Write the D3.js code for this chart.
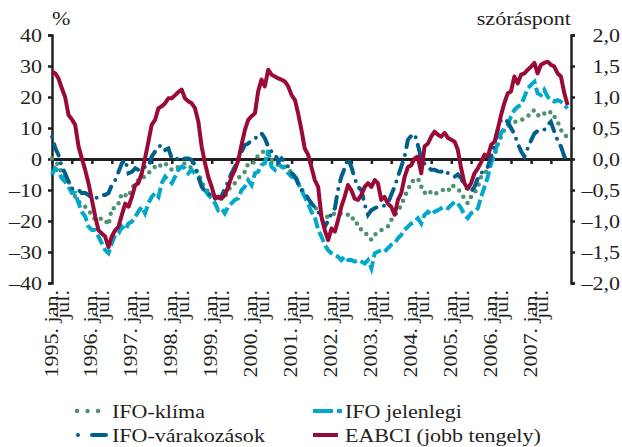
<!DOCTYPE html>
<html>
<head>
<meta charset="utf-8">
<script src="https://cdn.jsdelivr.net/npm/d3@7"></script>
<style>
body { margin: 0; background: #fff; }
svg { display: block; }
text { font-family: "Liberation Serif", "Times New Roman", serif; fill: #231f20; }
</style>
</head>
<body>
<svg width="622" height="447"></svg>
<script>

// monthly values, 1995 jan .. 2007 dec
var klima = [0.2, -0.9, -1.9, -4.6, -5.7, -7.3, -9.5, -12.2, -13.8, -14.3,
  -15.4, -16.5, -18, -19.7, -19.7, -19.1, -19.7, -21.3, -15.9, -15.9,
  -14.3, -11, -11.6, -12.2, -9.5, -7.8, -6.8, -6.8, -5.2, -4.6,
  -3.5, -2.5, -3, -1.4, -1.4, -2.5, -3.5, -3.5, -2.5, -1.9,
  -1.4, -1.9, -3, -3.5, -4.6, -7.3, -9.5, -10.5, -11, -12.2,
  -12.7, -12.7, -12.2, -10, -8.9, -7.8, -6.2, -5.2, -4.1, -1.4,
  -1.4, -0.9, 1.3, 1.8, 2.9, 1.3, -0.3, -1.4, -1.9, -1.9,
  -2.5, -3, -4.6, -6.2, -7.8, -9.5, -11.6, -13.2, -14.3, -15.4,
  -17, -18, -18.6, -18.6, -18, -17.5, -18, -17.5, -18, -18,
  -18, -20.8, -20.8, -22.9, -23.4, -25, -26.1, -24.5, -23.4, -22.9,
  -22.4, -21.8, -19.7, -18, -17, -14.8, -12.2, -10, -7.3, -6.8,
  -6.2, -8.9, -11, -10, -11, -11.6, -10.5, -10, -10, -10.5,
  -8.4, -8.9, -9.5, -11, -12.7, -14.3, -12.2, -11, -8.9, -5.7,
  -4.6, -3.5, -1.4, 1.3, 4.5, 7.2, 9.4, 10.4, 11, 12,
  12, 12.6, 13.1, 13.7, 15.3, 15.8, 14.2, 13.7, 14.7, 14.2,
  15.3, 13.7, 12, 9.4, 7.7, 7.2]

var jelenlegi = [-5, -3, -4, -6.2, -7.3, -8.9, -11, -11, -14.3, -17,
  -18.6, -21.8, -22.9, -22.9, -25, -27.2, -29.4, -30.4, -27.2, -24.5,
  -24, -21.8, -22.9, -20.8, -20.2, -18.6, -17, -15.4, -17.5, -14.3,
  -12.2, -11, -12.2, -7.8, -5.7, -6.8, -7.8, -5.7, -3.5, -2.5,
  -3, -4.6, -3.5, -4.6, -5.7, -8.4, -10, -11.6, -12.7, -14.3,
  -16.5, -15.9, -17.5, -15.4, -14.3, -13.2, -12.7, -10, -8.9, -6.8,
  -8.4, -4.6, -4.1, -1.9, -1.4, 2.9, -2.5, -3.5, -1.4, -2.5,
  -3, -4.6, -5.7, -4.6, -7.8, -10, -12.2, -14.5, -17, -18.6,
  -22.9, -25, -27.7, -29.4, -30.4, -31, -31.5, -32.6, -31.5, -32.6,
  -32.6, -33.1, -32.6, -33.1, -33.7, -32.6, -35.3, -30.4, -29.9, -29.4,
  -29.9, -28.8, -27.7, -27.2, -25.6, -24.5, -22.9, -21.8, -20.8, -20.2,
  -19.1, -20.8, -18, -17, -18, -17, -16.5, -15.9, -15.4, -15.9,
  -14.8, -13.8, -14.3, -15.9, -18, -19.1, -17.5, -17, -15.9, -12.2,
  -8.9, -5.7, -1.4, 1.8, 5, 8.3, 9.9, 11, 13.7, 15.8,
  16.9, 17.4, 20.1, 22.8, 23.9, 24.9, 21.2, 20.6, 22.3, 20.1,
  19, 18.5, 19, 18.5, 17.4, 16.3]

var varakozasok = [7.2, 3.4, 1.3, -2.5, -4.6, -7.3, -9.5, -9.5, -10, -11,
  -11, -11.6, -12.7, -12.7, -12.2, -11.6, -11.6, -11, -8.4, -6.8,
  -4.1, -1.4, -0.3, -4.6, -4.1, -3, -3.5, -3.5, -2.5, -2.5,
  0.8, 2.4, 4, 4.5, 2.9, 3.4, 0.2, -0.3, 0.3, -0.3,
  0.2, 0.2, -0.3, -1.9, -5.7, -8.9, -10.5, -11, -12.2, -12.7,
  -12.2, -12.2, -9.5, -7.3, -4.6, -2.5, 0.2, 2.4, 4.5, 5,
  6.1, 6.7, 7.2, 8.3, 6.7, 4, 2.4, 1.8, -0.9, 0.2,
  -0.9, -2.5, -4.6, -5.7, -7.8, -10, -11, -12.7, -14.3, -15.5,
  -17, -19, -21.8, -20, -17.5, -15.9, -10, -5.7, -3, 0.2,
  -2.5, -6.2, -9, -10, -14.8, -18, -16.5, -15.9, -15.4, -15.4,
  -15, -14.3, -11.6, -9, -5.7, -2.5, 0.8, 6.2, 7.5, 8.1,
  4.5, 0.2, -1.5, -2.5, -3.5, -3.5, -4, -4.1, -3.5, -4.6,
  -5.2, -5.7, -5, -6.2, -8.4, -10, -10.5, -9, -6.2, -4.6,
  -3.5, -2.5, 0.8, 5, 9.4, 12.6, 13, 12, 10, 8,
  5, 2.5, 0.8, 3.5, 6, 8.3, 9, 9.4, 9.4, 11,
  12, 8.8, 6, 4, 0.8, -0.3]

// EABCI, right axis (szóráspont)
var eabci = [1.41, 1.38, 1.30, 1.14, 1.00, 0.71, 0.64, 0.55, 0.20, 0.01,
  -0.18, -0.39, -0.66, -0.93, -1.15, -1.20, -1.25, -1.42, -1.25, -1.15,
  -1.09, -0.90, -0.72, -0.77, -0.61, -0.42, -0.39, -0.23, 0.01, 0.28,
  0.55, 0.63, 0.82, 0.85, 0.90, 0.98, 0.98, 1.03, 1.08, 1.12,
  0.98, 0.93, 0.90, 0.82, 0.60, 0.20, -0.07, -0.29, -0.45, -0.64,
  -0.61, -0.64, -0.58, -0.45, -0.29, -0.18, -0.02, 0.23, 0.47, 0.63,
  0.69, 0.74, 1.09, 1.28, 1.17, 1.44, 1.36, 1.33, 1.30, 1.28,
  1.25, 1.17, 1.03, 0.95, 0.74, 0.47, 0.17, 0.07, -0.13, -0.34,
  -0.45, -0.93, -1.15, -1.31, -1.12, -1.17, -0.99, -0.77, -0.61, -0.42,
  -0.50, -0.64, -0.66, -0.58, -0.45, -0.39, -0.45, -0.34, -0.39, -0.66,
  -0.61, -0.72, -0.77, -0.90, -0.66, -0.55, -0.29, -0.13, -0.10, 0.01,
  0.04, -0.23, 0.20, 0.25, 0.36, 0.44, 0.39, 0.36, 0.42, 0.34,
  0.31, 0.28, 0.15, -0.15, -0.39, -0.48, -0.39, -0.23, -0.15, -0.05,
  0.07, 0.04, 0.23, 0.28, 0.47, 0.71, 0.90, 1.06, 1.09, 1.33,
  1.22, 1.36, 1.38, 1.44, 1.49, 1.55, 1.38, 1.52, 1.55, 1.57,
  1.52, 1.49, 1.38, 1.33, 1.06, 0.87]

var leftTicks = [-40, -30, -20, -10, 0, 10, 20, 30, 40]
var rightTicks = [-2, -1.5, -1, -0.5, 0, 0.5, 1, 1.5, 2]
var seriesNames = ["IFO-klíma", "IFO jelenlegi", "IFO-várakozások", "EABCI (jobb tengely)"]

var col = {klima: "#4f9271", jelen: "#00a8cc", var: "#00608c", eabci: "#9a0a37", axis: "#231f20"}
var sx = 1.16   // the original serif runs wider than Liberation Serif

var svg = d3.select("svg")
var dates = klima.map(function (d, i) { return new Date(1995, i, 1) })

var x = d3.scaleTime()
    .domain([new Date(1995, 0, 1), new Date(2008, 0, 1)])
    .range([52, 571])
var yL = d3.scaleLinear().domain([-40, 40]).range([283, 35])
var yR = d3.scaleLinear().domain([-2, 2]).range([283, 35])

var fmtL = function (d) { return (d < 0 ? "–" : "") + Math.abs(d) }
var fmtR = function (d) { return (d < 0 ? "–" : "") + Math.abs(d).toFixed(1).replace(".", ",") }

var cleanAxis = function (g) {
    g.attr("font-size", null).attr("font-family", null)
    g.select(".domain").attr("stroke", col.axis).attr("stroke-width", 2.5)
    g.selectAll(".tick line").attr("stroke", col.axis).attr("stroke-width", 2.5)
    g.selectAll("text").style("font-size", "19px")
}

// left axis
var gL = svg.append("g")
    .attr("transform", "translate(52,0)")
    .call(d3.axisLeft(yL).tickValues(leftTicks).tickSize(4).tickSizeOuter(4).tickFormat(fmtL))
cleanAxis(gL)
gL.selectAll("text").attr("x", -10 / sx).attr("transform", "scale(" + sx + ",1)")

// right axis
var gR = svg.append("g")
    .attr("transform", "translate(571,0)")
    .call(d3.axisRight(yR).tickValues(rightTicks).tickSize(4).tickSizeOuter(4).tickFormat(fmtR))
cleanAxis(gR)
gR.selectAll("text").attr("x", 49 / sx).attr("text-anchor", "end").attr("transform", "scale(" + sx + ",1)")

// zero line with half-year ticks
var halfYears = d3.timeMonth.every(6).range(new Date(1995, 0, 1), new Date(2008, 0, 1))
var gX = svg.append("g")
    .attr("transform", "translate(0," + yL(0) + ")")
    .call(d3.axisBottom(x).tickValues(halfYears).tickSize(5).tickSizeOuter(0).tickFormat(""))
cleanAxis(gX)
gX.select(".domain").attr("stroke-width", 3)

// rotated date labels
var gLab = svg.append("g")
    .attr("transform", "translate(0,290)")
    .call(d3.axisBottom(x).tickValues(halfYears).tickSize(0).tickFormat(function (d) {
        return d.getMonth() == 0 ? d.getFullYear() + ". jan." : "júl."
    }))
gLab.attr("font-size", null).attr("font-family", null)
gLab.select(".domain").remove()
gLab.selectAll("text")
    .style("font-size", "19px")
    .attr("x", 0).attr("y", 0).attr("dy", null)
    .attr("text-anchor", "end")
    .attr("transform", function (d) {
        var off = d.getMonth() == 0 ? 5 : -3
        return "translate(" + off + ",0) rotate(-90) scale(" + sx + ",1)"
    })

// unit labels
svg.append("text").attr("transform", "translate(52,25) scale(" + sx + ",1)")
    .style("font-size", "19px").text("%")
svg.append("text").attr("transform", "translate(571,25) scale(" + sx + ",1)")
    .attr("text-anchor", "end").style("font-size", "19px").text("szóráspont")

// lines
var lineL = function (arr) {
    return d3.line().x(function (d, i) { return x(dates[i]) }).y(function (d) { return yL(d) })(arr)
}
var lineR = d3.line().x(function (d, i) { return x(dates[i]) }).y(function (d) { return yR(d) })

svg.append("path").attr("d", lineL(klima))
    .attr("fill", "none").attr("stroke", col.klima).attr("stroke-width", 4.5)
    .attr("stroke-linecap", "round").attr("stroke-dasharray", "0,7.5")
svg.append("path").attr("d", lineL(jelenlegi))
    .attr("fill", "none").attr("stroke", col.jelen).attr("stroke-width", 4)
    .attr("stroke-dasharray", "11,4")
svg.append("path").attr("d", lineL(varakozasok))
    .attr("fill", "none").attr("stroke", col.var).attr("stroke-width", 4)
    .attr("stroke-linecap", "round").attr("stroke-dasharray", "0,8,12,8")
svg.append("path").attr("d", lineR(eabci))
    .attr("fill", "none").attr("stroke", col.eabci).attr("stroke-width", 4)
    .attr("stroke-linejoin", "round")

// legend
var legend = [
    {name: seriesNames[0], x: 77, y: 418, color: col.klima, dash: "0,10.5", cap: "round", w: 4.5, len: 22},
    {name: seriesNames[1], x: 313, y: 418, color: col.jelen, dash: "20,4,5,100", cap: "butt", w: 4, len: 29},
    {name: seriesNames[2], x: 78, y: 442, color: col.var, dash: "0,14,14,100", cap: "round", w: 4, len: 30},
    {name: seriesNames[3], x: 313, y: 442, color: col.eabci, dash: null, cap: "butt", w: 4, len: 25}
]
var lg = svg.append("g").selectAll("g").data(legend).enter().append("g")
lg.append("line")
    .attr("x1", function (d) { return d.x }).attr("x2", function (d) { return d.x + d.len })
    .attr("y1", function (d) { return d.y - 7 }).attr("y2", function (d) { return d.y - 7 })
    .attr("stroke", function (d) { return d.color })
    .attr("stroke-width", function (d) { return d.w })
    .attr("stroke-linecap", function (d) { return d.cap })
    .attr("stroke-dasharray", function (d) { return d.dash })
lg.append("text")
    .attr("transform", function (d) { return "translate(" + (d.x < 200 ? 112 : 345) + "," + d.y + ") scale(" + sx + ",1)" })
    .style("font-size", "19px")
    .text(function (d) { return d.name })

</script>
</body>
</html>
